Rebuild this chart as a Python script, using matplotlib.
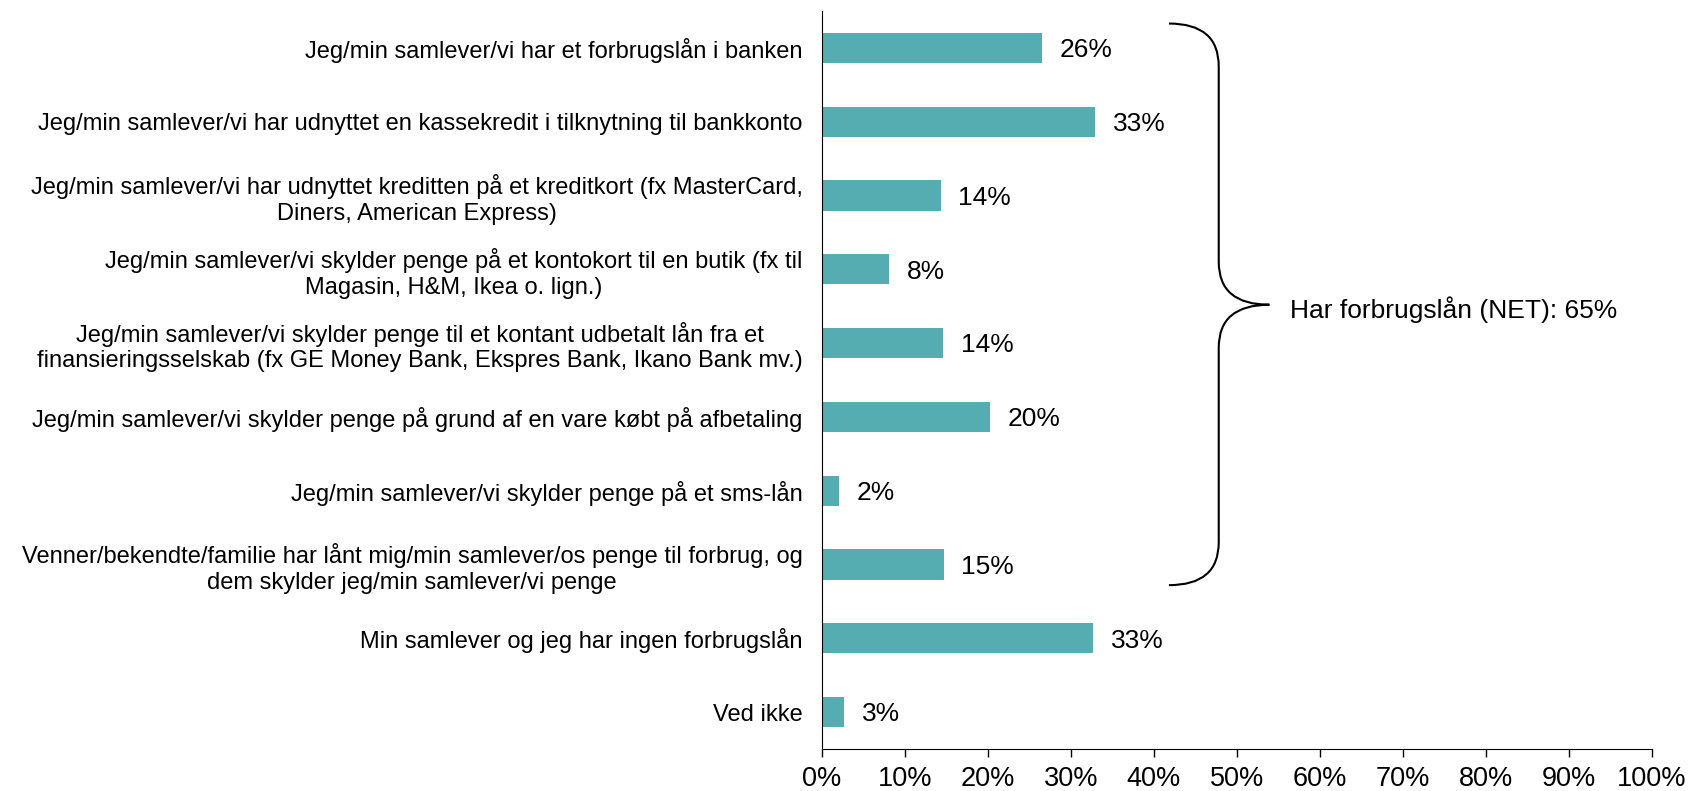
import matplotlib.pyplot as plt
from matplotlib.path import Path
from matplotlib.patches import PathPatch

plt.rcParams['font.family'] = ['Liberation Sans', 'DejaVu Sans']

# categories (top to bottom) and shares in percent
categories = [
    "Jeg/min samlever/vi har et forbrugslån i banken",
    "Jeg/min samlever/vi har udnyttet en kassekredit i tilknytning til bankkonto",
    "Jeg/min samlever/vi har udnyttet kreditten på et kreditkort (fx MasterCard,\nDiners, American Express)",
    "Jeg/min samlever/vi skylder penge på et kontokort til en butik (fx til\nMagasin, H&M, Ikea o. lign.)",
    "Jeg/min samlever/vi skylder penge til et kontant udbetalt lån fra et\nfinansieringsselskab (fx GE Money Bank, Ekspres Bank, Ikano Bank mv.)",
    "Jeg/min samlever/vi skylder penge på grund af en vare købt på afbetaling",
    "Jeg/min samlever/vi skylder penge på et sms-lån",
    "Venner/bekendte/familie har lånt mig/min samlever/os penge til forbrug, og\ndem skylder jeg/min samlever/vi penge",
    "Min samlever og jeg har ingen forbrugslån",
    "Ved ikke",
]
values = [26.5, 32.9, 14.3, 8.1, 14.6, 20.3, 2.1, 14.7, 32.7, 2.7]
value_labels = ["26%", "33%", "14%", "8%", "14%", "20%", "2%", "15%", "33%", "3%"]
xticks = [0, 10, 20, 30, 40, 50, 60, 70, 80, 90, 100]
brace_label = "Har forbrugslån (NET): 65%"

fig = plt.figure(figsize=(16.9, 7.91), dpi=100)
ax = fig.add_axes([0.4864, 0.0531, 0.4911, 0.933])

ypos = list(range(len(categories)))
ax.barh(ypos, values, height=0.41, color="#55ADB1")

for y, v, lab in zip(ypos, values, value_labels):
    ax.text(v + 2.1, y + 0.03, lab, va="center", ha="left", fontsize=19)

ax.set_xlim(0, 100)
ax.set_ylim(len(categories) - 0.5, -0.5)
ax.set_xticks(xticks)
ax.set_xticklabels([f"{t}%" for t in xticks], fontsize=19.5)
ax.set_yticks(ypos)
ax.set_yticklabels(categories, fontsize=17)
for lbl in ax.get_yticklabels():
    lbl.set_multialignment("center")

ax.tick_params(axis="y", length=0, pad=14)
ax.tick_params(axis="x", length=6, width=1, pad=6, direction="out")
for s in ["top", "right"]:
    ax.spines[s].set_visible(False)
ax.spines["left"].set_color("black")
ax.spines["bottom"].set_color("black")

# curly brace grouping the first eight rows
x0, xv, xt = 41.8, 47.8, 53.9
ytop, ybot, ymid = -0.33, 7.28, 3.48
dy = 0.58
verts = [
    (x0, ytop), (xv, ytop), (xv, ytop + dy),
    (xv, ymid - dy),
    (xv, ymid), (xt, ymid),
    (xv, ymid), (xv, ymid + dy),
    (xv, ybot - dy),
    (xv, ybot), (x0, ybot),
]
codes = [Path.MOVETO, Path.CURVE3, Path.CURVE3, Path.LINETO,
         Path.CURVE3, Path.CURVE3, Path.CURVE3, Path.CURVE3,
         Path.LINETO, Path.CURVE3, Path.CURVE3]
ax.add_patch(PathPatch(Path(verts, codes), fill=False, lw=1.5,
                       edgecolor="black", clip_on=False))
ax.text(xt + 2.5, ymid + 0.07, brace_label, va="center", ha="left", fontsize=19)

fig.savefig("out.png", dpi=100)
